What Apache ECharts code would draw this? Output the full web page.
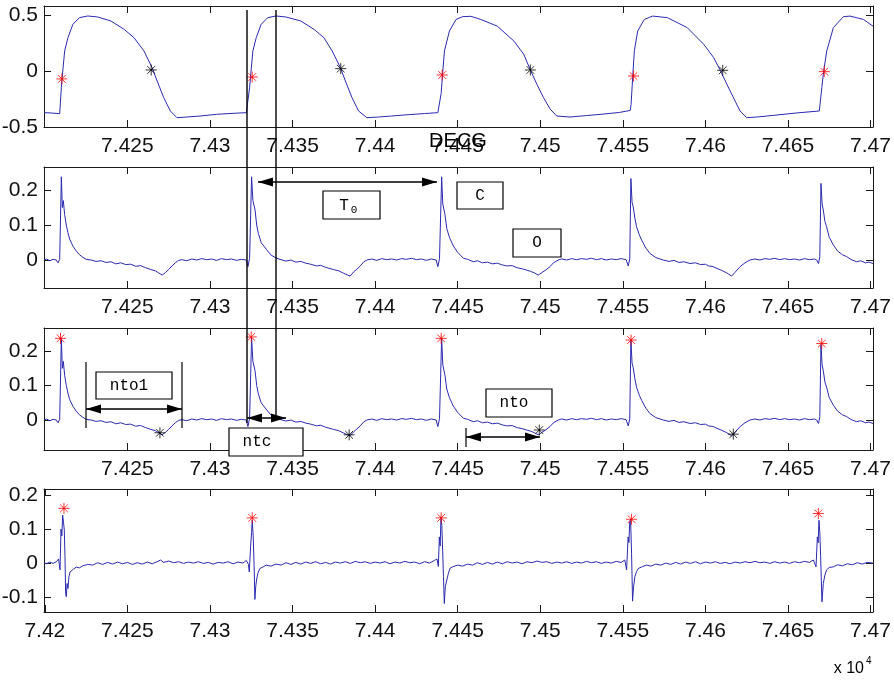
<!DOCTYPE html>
<html>
<head>
<meta charset="utf-8">
<title>DECG</title>
<script src="https://cdn.jsdelivr.net/npm/echarts@6/dist/echarts.min.js"></script>
<style>
  html, body { margin: 0; padding: 0; background: #fff; }
  #main { width: 894px; height: 680px; }
</style>
</head>
<body>
<div id="main"></div>
<script>
// x values are sample numbers, axis shows them as "x 10^4"
const xTicksTop = [74250, 74300, 74350, 74400, 74450, 74500, 74550, 74600, 74650, 74700];
const xTicksBottom = [74200, 74250, 74300, 74350, 74400, 74450, 74500, 74550, 74600, 74650, 74700];
const yTicksAp = [-0.5, 0, 0.5];
const yTicksDecg = [0, 0.1, 0.2];
const yTicksDiff = [-0.1, 0, 0.1, 0.2];

// action potential (top plot)
const apSignal = [
  [74199.5,-0.372],[74204,-0.375],[74209,-0.381],[74210,-0.149],[74211,0.02],[74212,0.179],[74214,0.297],[74217,0.417],
  [74221,0.476],[74226,0.491],[74232,0.482],[74240,0.446],[74248,0.372],[74254,0.297],[74260,0.179],[74265,0.029],
  [74268,-0.089],[74272,-0.238],[74276,-0.357],[74280,-0.417],[74286,-0.411],[74294,-0.402],[74304,-0.387],[74314,-0.378],[74322,-0.372],
  [74323,-0.374],[74324,-0.149],[74325,0.02],[74326,0.179],[74328,0.297],[74331,0.417],[74335,0.476],[74340,0.491],
  [74346,0.482],[74355,0.446],[74363,0.372],[74369,0.297],[74374,0.179],[74379,0.029],[74382,-0.089],[74386,-0.238],
  [74390,-0.357],[74395,-0.417],[74402,-0.411],[74410,-0.402],[74420,-0.39],[74430,-0.38],[74438,-0.372],
  [74439,-0.375],[74440,-0.2],[74441,0.0],[74442,0.179],[74445,0.357],[74449,0.46],[74453,0.485],[74458,0.488],
  [74464,0.46],[74474,0.40],[74484,0.268],[74490,0.15],[74494,0.009],[74498,-0.12],[74502,-0.238],[74506,-0.34],
  [74510,-0.402],[74518,-0.411],[74528,-0.398],[74538,-0.385],[74548,-0.37],[74554.5,-0.352],
  [74555,-0.3],[74556,-0.05],[74557,0.18],[74559,0.357],[74563,0.46],[74568,0.49],[74577,0.476],[74589,0.387],
  [74599,0.238],[74605,0.12],[74609,0.006],[74615,-0.179],[74621,-0.357],[74625,-0.417],[74632,-0.41],[74642,-0.395],
  [74655,-0.375],[74669,-0.357],
  [74670.5,-0.15],[74671.6,-0.006],[74673.5,0.179],[74677.5,0.387],[74683.6,0.485],[74687.6,0.49],[74695.7,0.46],[74701.5,0.40]
];
const apOnsetMarks = [[74210.3,-0.071],[74325.6,-0.054],[74440.6,-0.036],[74556.5,-0.045],[74672,-0.006]];
const apRepolMarks = [[74264.4,0.009],[74379.2,0.021],[74494,0.009],[74610.5,0.006]];

// DECG (2nd and 3rd plot)
const decgSignal = [
  [74199.5,0.000],[74201,0.003],[74203,-0.002],[74205,0.002],[74207,0.000],[74208,-0.008],[74209,0.002],
  [74210,0.238],[74210.6,0.15],[74211.2,0.17],[74212,0.13],[74213,0.10],[74214,0.078],[74215,0.06],[74217,0.04],
  [74219,0.026],[74221,0.015],[74223,0.008],[74225,0.002],[74228,0.000],[74231,-0.004],[74234,-0.002],[74237,-0.007],
  [74240,-0.005],[74243,-0.011],[74246,-0.008],[74249,-0.013],[74252,-0.012],[74255,-0.018],[74258,-0.016],[74261,-0.022],
  [74264,-0.027],[74267,-0.031],[74269,-0.037],[74271,-0.043],[74273,-0.036],[74275,-0.027],[74277,-0.017],[74279,-0.008],
  [74281,-0.001],[74283,0.001],[74286,-0.002],[74289,0.003],[74292,0.000],[74295,0.004],[74298,0.001],[74301,0.003],
  [74304,-0.001],[74307,0.004],[74310,0.001],[74313,0.003],[74316,-0.001],[74319,0.002],[74322,0.000],[74323,-0.019],[74324,0.005],
  [74325.2,0.238],[74326,0.17],[74326.6,0.175],[74327.3,0.143],[74328.3,0.10],[74329.3,0.076],[74331,0.05],[74334.4,0.029],
  [74337,0.014],[74340.4,0.005],[74343,0.001],[74346,-0.003],[74349,0.000],[74352,-0.006],[74355,-0.004],[74358,-0.009],
  [74361,-0.012],[74364.6,-0.017],[74367,-0.015],[74370,-0.021],[74374.7,-0.027],[74378,-0.031],[74381,-0.038],[74384.8,-0.046],
  [74387,-0.034],[74389,-0.026],[74391,-0.017],[74393,-0.006],[74395,0.000],[74398,0.003],[74401,-0.001],[74404,0.004],
  [74407,0.001],[74410,0.003],[74413,0.000],[74416,0.004],[74419,0.002],[74422,0.005],[74425,0.001],[74428,0.003],
  [74431,-0.001],[74434,0.003],[74437,0.000],[74438,-0.019],[74439,0.004],
  [74440.3,0.238],[74441,0.16],[74441.6,0.165],[74442.3,0.13],[74443.4,0.09],[74445,0.065],[74447.4,0.04],[74450,0.022],
  [74453.5,0.005],[74456,0.002],[74459.5,-0.005],[74462,-0.002],[74465,-0.008],[74468,-0.006],[74471,-0.011],[74474,-0.009],
  [74477,-0.014],[74479.7,-0.017],[74483,-0.016],[74486,-0.022],[74489,-0.025],[74491.8,-0.029],[74494,-0.032],[74496.5,-0.037],
  [74498.8,-0.043],[74501,-0.036],[74503.5,-0.028],[74505.9,-0.019],[74508,-0.008],[74510.9,0.000],[74513,0.003],[74516,0.000],
  [74519,0.004],[74522,0.001],[74525,0.004],[74528,0.002],[74531,0.005],[74534,0.001],[74537,0.004],[74540,0.000],
  [74543,0.003],[74546,0.001],[74549,0.004],[74552,0.001],[74553.3,-0.017],[74554.2,0.003],
  [74554.9,0.233],[74555.6,0.165],[74556.3,0.152],[74557.3,0.12],[74558.3,0.095],[74560,0.072],[74561.4,0.057],[74564,0.034],
  [74566.4,0.019],[74570,0.007],[74574.5,0.000],[74578,-0.004],[74581,-0.001],[74584,-0.007],[74587,-0.005],[74590.7,-0.010],
  [74594,-0.008],[74597,-0.013],[74600,-0.012],[74602,-0.017],[74604.8,-0.019],[74607,-0.024],[74610,-0.03],[74613,-0.037],
  [74615.9,-0.046],[74618,-0.035],[74621,-0.019],[74624,-0.008],[74627,0.000],[74630,0.003],[74633,0.000],[74636,0.004],
  [74639,0.002],[74642,0.005],[74645,0.001],[74648,0.004],[74651,0.001],[74654,0.003],[74657,0.000],[74660,0.004],
  [74663,0.001],[74666,0.003],[74667.4,0.000],[74668.5,-0.01],[74669.3,0.01],
  [74670,0.219],[74670.7,0.16],[74671.4,0.143],[74672.4,0.11],[74673.4,0.095],[74675,0.065],[74677.5,0.043],[74680,0.026],
  [74683,0.015],[74685.5,0.01],[74688,0.002],[74691.6,-0.005],[74694,-0.002],[74697,-0.008],[74699,-0.006],[74701.5,-0.01]
];
const decgPeakMarks = [[74209.5,0.237],[74325,0.241],[74440,0.237],[74555,0.232],[74670.5,0.222]];
const decgDipMarks = [[74269.7,-0.037],[74384.3,-0.043],[74499.4,-0.029],[74616.9,-0.041]];

// bottom plot
const diffSignal = [
  [74199.5,0.001],[74201,-0.002],[74203,0.003],[74205,-0.001],[74207,0.004],[74208.3,0.012],[74209.2,-0.02],
  [74209.8,0.10],[74210.3,0.08],[74210.8,0.141],[74211.3,0.12],[74211.8,0.097],[74212.2,0.02],[74212.6,-0.089],[74213,-0.099],
  [74213.5,-0.06],[74214,-0.075],[74214.6,-0.04],[74215.3,-0.026],[74217.3,-0.018],[74219,-0.012],[74221,-0.014],[74223,-0.008],
  [74226,-0.004],[74229,-0.006],[74232,0.001],[74235,-0.004],[74238,0.002],[74241,-0.003],[74244,0.003],[74247,-0.002],
  [74250,0.002],[74253,-0.004],[74256,0.001],[74259,-0.003],[74262,0.003],[74265,-0.002],[74268,0.004],[74270,0.009],
  [74272,0.002],[74275,0.006],[74278,0.001],[74281,0.004],[74284,-0.001],[74287,0.003],[74290,0.000],[74293,0.004],
  [74296,-0.001],[74299,0.002],[74302,-0.003],[74305,0.002],[74308,0.000],[74311,0.004],[74314,-0.002],[74317,0.003],
  [74320,0.000],[74322,0.008],[74323.3,-0.004],[74323.8,-0.026],
  [74324.6,0.048],[74325.2,0.09],[74325.6,0.126],[74326.2,0.077],[74326.8,-0.02],[74327.2,-0.107],[74327.7,-0.07],[74328.2,-0.05],
  [74329,-0.03],[74330.2,-0.016],[74332,-0.012],[74334,-0.006],[74337,-0.009],[74340,-0.003],[74343,-0.006],[74346,0.001],
  [74349,-0.004],[74352,0.002],[74355,-0.003],[74358,0.003],[74361,-0.001],[74364,0.004],[74367,-0.002],[74370,0.002],
  [74373,-0.003],[74376,0.003],[74379,0.000],[74382,0.004],[74385,-0.001],[74388,0.005],[74391,0.001],[74394,0.004],
  [74397,-0.001],[74400,0.003],[74403,0.000],[74406,0.004],[74409,-0.002],[74412,0.003],[74415,0.000],[74418,0.005],
  [74421,0.001],[74424,0.003],[74427,-0.002],[74430,0.004],[74433,0.000],[74436,0.008],[74437.5,0.012],[74438.3,-0.01],
  [74438.9,0.077],[74439.4,0.05],[74439.9,0.136],[74440.4,0.11],[74440.9,0.038],[74441.4,-0.04],[74441.9,-0.119],[74442.5,-0.07],
  [74443.4,-0.05],[74444.4,-0.03],[74445.4,-0.015],[74447,-0.011],[74450,-0.006],[74453,-0.009],[74456,-0.003],[74459,-0.006],
  [74462,0.001],[74465,-0.004],[74468,0.002],[74471,-0.003],[74474,0.003],[74477,-0.002],[74480,0.004],[74483,0.000],
  [74486,0.003],[74489,-0.002],[74492,0.004],[74495,0.001],[74498,0.006],[74501,0.002],[74504,0.004],[74507,-0.001],
  [74510,0.003],[74513,0.000],[74516,0.004],[74519,-0.001],[74522,0.003],[74525,0.000],[74528,0.005],[74531,0.001],
  [74534,0.004],[74537,-0.001],[74540,0.003],[74543,0.000],[74546,0.005],[74549,0.002],[74551.2,0.009],[74552.3,-0.02],
  [74553.2,0.077],[74553.7,0.06],[74554.2,0.121],[74554.7,0.129],[74555.3,0.029],[74555.9,-0.112],[74556.5,-0.07],[74557.3,-0.04],
  [74558.3,-0.025],[74559.4,-0.016],[74562,-0.01],[74564.4,-0.006],[74567,-0.009],[74570,-0.003],[74573,-0.006],[74576,0.000],
  [74579,-0.004],[74582,0.002],[74585,-0.003],[74588,0.003],[74591,-0.001],[74594,0.004],[74597,-0.002],[74600,0.003],
  [74603,0.000],[74606,0.004],[74609,-0.001],[74612,0.002],[74615,-0.002],[74618,0.003],[74621,0.000],[74624,0.004],
  [74627,0.001],[74630,0.005],[74633,0.001],[74636,0.003],[74639,-0.001],[74642,0.004],[74645,0.000],[74648,0.003],
  [74651,-0.001],[74654,0.004],[74657,0.001],[74660,0.005],[74663,0.002],[74665.4,0.009],[74667,-0.011],
  [74667.8,0.077],[74668.3,0.06],[74668.8,0.126],[74669.3,0.09],[74669.8,0.019],[74670.2,-0.05],[74670.6,-0.114],[74671.4,-0.06],
  [74672.4,-0.035],[74673.4,-0.02],[74675,-0.013],[74677.5,-0.011],[74680,-0.005],[74683,-0.008],[74686,-0.002],[74689,-0.005],
  [74692,0.001],[74695,-0.003],[74698,0.002],[74701.5,0.000]
];
const diffPeakMarks = [[74211.6,0.161],[74325.6,0.133],[74440,0.133],[74555.3,0.129],[74668.4,0.146]];

const lineColor = '#2a2ab0';
const axisColor = '#1a1a1a';
const sans = '"Liberation Sans", Arial, Helvetica, sans-serif';
const mono = '"Liberation Mono", "DejaVu Sans Mono", monospace';
const star = 'path://M5 0L5 10M0 5L10 5M1.5 1.5L8.5 8.5M1.5 8.5L8.5 1.5';

// outerBoundsMode none: keep the grids exactly where they are put
const grids = [
  { left: 44, top: 6, width: 829, height: 121, outerBoundsMode: 'none' },
  { left: 44, top: 167, width: 829, height: 121, outerBoundsMode: 'none' },
  { left: 44, top: 328, width: 829, height: 122, outerBoundsMode: 'none' },
  { left: 44, top: 489, width: 829, height: 123, outerBoundsMode: 'none' }
];
const yRanges = [[-0.5, 0.58], [-0.08, 0.266], [-0.087, 0.267], [-0.144, 0.218]];
const yTickSets = [yTicksAp, yTicksDecg, yTicksDecg, yTicksDiff];

function makeX(gi, pos, ticks) {
  return {
    type: 'value', gridIndex: gi, position: pos, min: 74199.5, max: 74701.5,
    axisLine: { show: true, onZero: false, lineStyle: { color: axisColor, width: 1 } },
    axisTick: { show: true, inside: true, length: 7, customValues: ticks, lineStyle: { color: axisColor } },
    axisLabel: pos === 'bottom' ? {
      show: true, customValues: ticks, margin: 9, color: '#111', fontSize: 21, fontFamily: sans,
      formatter: v => String(+(v / 1e4).toFixed(3))
    } : { show: false },
    splitLine: { show: false }
  };
}
function makeY(gi, pos, ticks) {
  return {
    type: 'value', gridIndex: gi, position: pos, min: yRanges[gi][0], max: yRanges[gi][1],
    axisLine: { show: true, onZero: false, lineStyle: { color: axisColor, width: 1 } },
    axisTick: { show: true, inside: true, length: 7, customValues: ticks, lineStyle: { color: axisColor } },
    axisLabel: pos === 'left' ? {
      show: true, customValues: ticks, margin: 6, color: '#111', fontSize: 21, fontFamily: sans,
      formatter: v => String(v)
    } : { show: false },
    splitLine: { show: false }
  };
}

let xAxis = [], yAxis = [];
for (let i = 0; i < 4; i++) {
  let bt = i === 3 ? xTicksBottom : xTicksTop;
  xAxis.push(makeX(i, 'bottom', bt), makeX(i, 'top', bt));
  yAxis.push(makeY(i, 'left', yTickSets[i]), makeY(i, 'right', yTickSets[i]));
}

function trace(gi, data) {
  return {
    type: 'line', xAxisIndex: gi * 2, yAxisIndex: gi * 2, data: data,
    showSymbol: false, symbol: 'none', silent: true,
    lineStyle: { color: lineColor, width: 1 }
  };
}
function marks(gi, data, color) {
  return {
    type: 'scatter', xAxisIndex: gi * 2, yAxisIndex: gi * 2, data: data,
    symbol: star, symbolSize: 11, silent: true, z: 5,
    itemStyle: { color: 'rgba(0,0,0,0)', borderColor: color, borderWidth: 1 }
  };
}

// annotations (pixel positions)
const ink = '#000';
function seg(x1, y1, x2, y2, w) {
  return { type: 'line', shape: { x1, y1, x2, y2 }, style: { stroke: ink, lineWidth: w || 1.4 }, z: 100, silent: true };
}
function head(x, y, dir) {
  return { type: 'polygon', shape: { points: [[x, y], [x - dir * 15, y - 4.5], [x - dir * 15, y + 4.5]] },
    style: { fill: ink }, z: 100, silent: true };
}
function arrow(x1, x2, y) {
  return [seg(x1, y, x2, y, 1.5), head(x1, y, -1), head(x2, y, 1)];
}
function txt(x, y, s, font, align) {
  return { type: 'text', z: 102, silent: true,
    style: { x, y, text: s, font: font, fill: '#000', align: align || 'center', verticalAlign: 'middle',
      textAlign: align || 'center', textVerticalAlign: 'middle' } };
}
function box(x, y, w, h, s, tx) {
  return [
    { type: 'rect', shape: { x, y, width: w, height: h }, style: { fill: '#fff', stroke: ink, lineWidth: 1.2 }, z: 101, silent: true },
    txt(tx || x + w / 2, y + h / 2, s, '16px ' + mono)
  ];
}

const graphics = [].concat(
  seg(247, 10, 247, 423), seg(276, 10, 276, 420),
  arrow(258, 437, 182),
  box(323, 191, 57, 28, ''), txt(344, 206, 'T', '16px ' + mono), txt(354, 210, '0', '11px ' + mono),
  box(457, 182, 46, 27, 'C'),
  box(513, 229, 48, 28, 'O'),
  seg(86, 362, 86, 428, 1.2), seg(182, 362, 182, 428, 1.2), arrow(86, 182, 409),
  box(96, 372, 76, 27, 'nto1', 129),
  arrow(247, 286, 418),
  box(229, 428, 74, 28, 'ntc', 257),
  box(486, 389, 66, 28, 'nto', 514),
  seg(466, 428, 466, 447, 1.2), arrow(466, 540, 437),
  txt(458, 141, 'DECG', '20px ' + sans),
  txt(864, 669, 'x 10', '16px ' + sans, 'right'),
  txt(866, 661, '4', '10px ' + sans, 'left')
);

const myChart = echarts.init(document.getElementById('main'));
myChart.setOption({
  animation: false,
  backgroundColor: '#fff',
  grid: grids,
  xAxis: xAxis,
  yAxis: yAxis,
  series: [
    trace(0, apSignal), marks(0, apOnsetMarks, '#ff0000'), marks(0, apRepolMarks, '#000000'),
    trace(1, decgSignal),
    trace(2, decgSignal), marks(2, decgPeakMarks, '#ff0000'), marks(2, decgDipMarks, '#000000'),
    trace(3, diffSignal), marks(3, diffPeakMarks, '#ff0000')
  ],
  graphic: graphics
});
</script>
</body>
</html>
